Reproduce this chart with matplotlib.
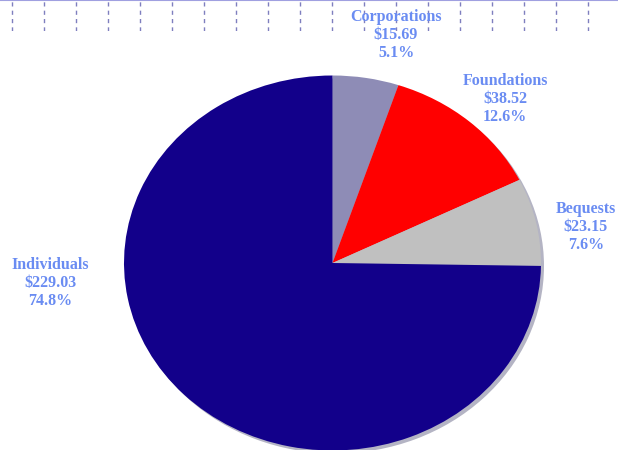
import numpy as np
import matplotlib
matplotlib.use('Agg')
import matplotlib.pyplot as plt

# data (billions of dollars)
sources = ['Corporations', 'Foundations', 'Bequests', 'Individuals']
amounts = [15.69, 38.52, 23.15, 229.03]
slice_colors = ['#8e8cb6', '#ff0000', '#c0c0c0', '#12008a']

# label anchor points in pixels (x from left, y from top)
label_xy = [(396, 35), (505, 99), (586, 227), (50, 283)]

W, H = 618, 450
label_color = '#6a8cf2'

fig = plt.figure(figsize=(W / 100, H / 100), dpi=100)
fig.patch.set_facecolor('white')

# dashed guide lines along the top edge
top = fig.add_axes([0, 1 - 31 / H, 1, 31 / H])
top.set_xlim(0, W)
top.set_ylim(0, 1)
top.set_xticks(np.arange(11.5, W, 32))
top.set_yticks([])
top.tick_params(length=0, labelbottom=False)
top.grid(axis='x', color='#7f7fbf', linestyle=(0, (3, 3)), linewidth=1)
for s in ['left', 'right', 'bottom']:
    top.spines[s].set_visible(False)
top.spines['top'].set_color('#a0a0e0')
top.spines['top'].set_linestyle((0, (1, 1)))
top.spines['top'].set_linewidth(1.5)
top.patch.set_alpha(0)

# pie axes: centre at pixel (332.5, 263), radii 208.5 x 187.5 px
ax = fig.add_axes([0, 0, 1, 1])
ax.patch.set_alpha(0)
cx, cy, rx, ry = 332.5, 263, 208.5, 187.5

# soft shadow behind the pie
ax.pie([1], colors=['#b4b4c4'], center=(3 / rx, -3 / ry), radius=1,
       wedgeprops=dict(linewidth=0))
ax.pie(amounts, colors=slice_colors, startangle=90, counterclock=False,
       radius=1, wedgeprops=dict(linewidth=0))
ax.set_aspect('auto')
ax.set_xlim(-cx / rx, (W - cx) / rx)
ax.set_ylim(-(H - cy) / ry, cy / ry)
ax.axis('off')

total = sum(amounts)
for name, val, (px, py) in zip(sources, amounts, label_xy):
    txt = f'{name}\n${val:.2f}\n{val / total * 100:.1f}%'
    fig.text(px / W, 1 - py / H, txt, ha='center', va='center',
             family='Liberation Serif', fontweight='bold', fontsize=11.5,
             color=label_color, linespacing=1.2)

fig.savefig('out.png', dpi=100)
